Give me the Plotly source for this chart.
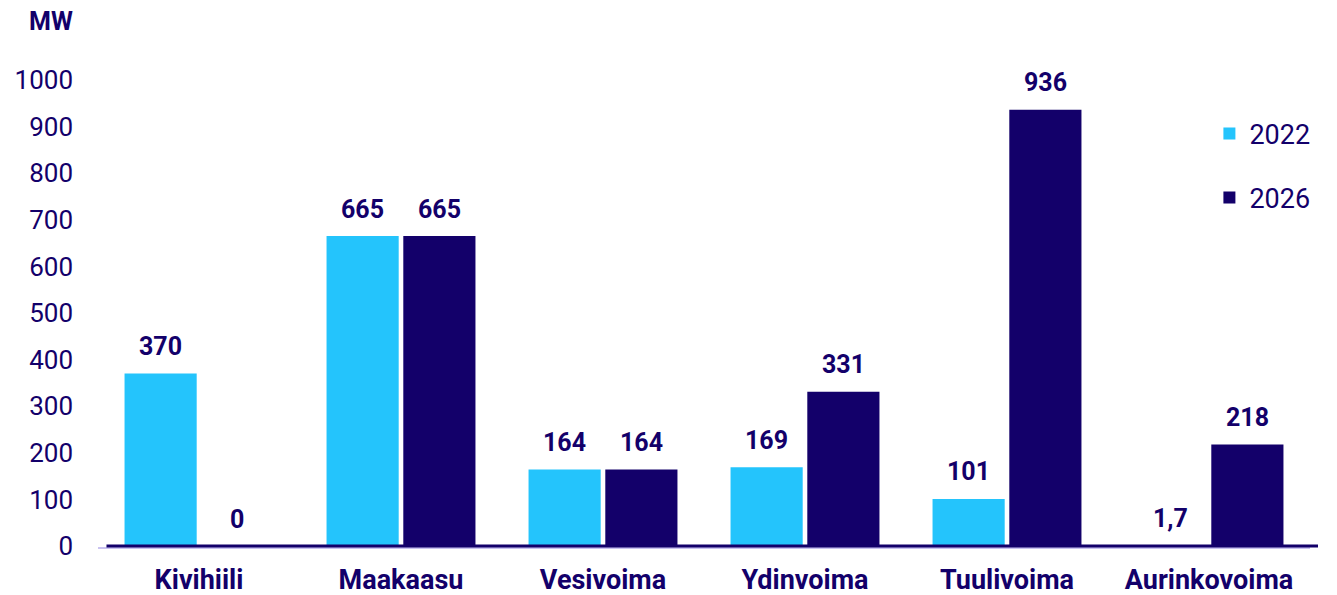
import plotly.graph_objects as go

categories = ['Kivihiili', 'Maakaasu', 'Vesivoima', 'Ydinvoima', 'Tuulivoima', 'Aurinkovoima']
values_2022 = [370, 665, 164, 169, 101, 1.7]
values_2026 = [0, 665, 164, 331, 936, 218]
labels_2022 = ['370', '665', '164', '169', '101', '1,7']
labels_2026 = ['0', '665', '164', '331', '936', '218']

navy = '#13006A'
light = '#24C4FC'
lavender = '#C9C2F0'
font_family = 'Roboto, Lato, sans-serif'

fig = go.Figure()
fig.add_trace(go.Bar(x=categories, y=values_2022, name='2022', marker_color=light,
                     marker_line_width=0, legendgroup='a'))
fig.add_trace(go.Bar(x=categories, y=values_2026, name='2026', marker_color=navy,
                     marker_line_width=0, legendgroup='b'))

# value labels above bars
for i, (v1, v2) in enumerate(zip(values_2022, values_2026)):
    for xo, v, t in [(-0.19, v1, labels_2022[i]), (0.19, v2, labels_2026[i])]:
        fig.add_annotation(x=i + xo, y=v, text=t, showarrow=False, yshift=27,
                           font=dict(size=25, color=navy, family=font_family, weight='bold'))

fig.add_annotation(xref='paper', yref='paper', x=-0.039, y=1.126, xanchor='center',
                   yanchor='middle', text='MW', showarrow=False, borderpad=0,
                   font=dict(size=25, color=navy, family=font_family, weight='bold'))

# baseline: light shadow + dark axis line
fig.add_shape(type='line', xref='paper', yref='paper', x0=0, x1=1, y0=-0.0045, y1=-0.0045,
              line=dict(color=lavender, width=2), layer='above')
fig.add_shape(type='line', xref='paper', yref='paper', x0=0.007, x1=1.0066, y0=0, y1=0,
              line=dict(color=navy, width=3), layer='above')

fig.update_layout(
    width=1337, height=595,
    margin=dict(l=90, r=35, t=72, b=57),
    plot_bgcolor='white', paper_bgcolor='white',
    barmode='group', bargap=0.24, bargroupgap=0.06,
    font=dict(family=font_family, color=navy),
    legend=dict(x=0.917, y=0.937, xanchor='left', yanchor='top',
                font=dict(size=27, color=navy), tracegroupgap=26,
                bgcolor='rgba(0,0,0,0)'),
    xaxis=dict(showgrid=False, showline=False, ticks='', automargin=False,
               tickfont=dict(size=27, color=navy, weight='bold'),
               ticklabelstandoff=15, range=[-0.5, 5.5]),
    yaxis=dict(range=[0, 1000], dtick=100, showgrid=False, zeroline=False,
               showline=False, ticks='', automargin=False,
               tickfont=dict(size=26, color=navy), ticklabelstandoff=24),
)

fig.write_html('out.html')
